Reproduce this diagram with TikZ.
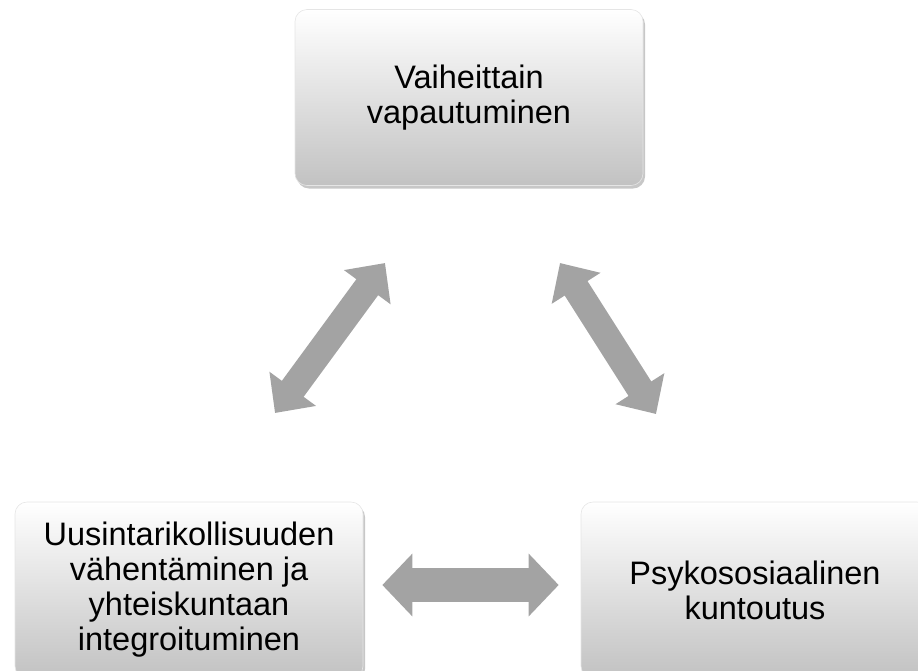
\documentclass[tikz,border=0pt]{standalone}
\usepackage{fontspec}
\setmainfont{Liberation Sans}
\usetikzlibrary{arrows.meta,shadows}
\begin{document}
\begin{tikzpicture}[x=1pt,y=-1pt,
    box/.style={rectangle,rounded corners=12pt,minimum width=348pt,minimum height=176pt,
        align=center,font=\fontsize{32.5}{35}\selectfont,
        top color=white,bottom color=black!24,draw=black!10,line width=0.6pt,
        drop shadow={shadow xshift=2pt,shadow yshift=-3pt,opacity=0.22,fill=black}},
    dblarrow/.style={draw=black!36,line width=27pt,
        {Triangle[length=30pt,width=56pt]}-{Triangle[length=30pt,width=56pt]}}]
    \useasboundingbox (0,0) rectangle (918,670);
    \node[box] (top) at (469,97.5) {Vaiheittain\\vapautuminen};
    \node[box] (bl) at (189,590) {Uusintarikollisuuden\\vähentäminen ja\\yhteiskuntaan\\integroituminen};
    \node[box] (br) at (755,590) {Psykososiaalinen\\kuntoutus};
    % diagonal arrow ends
    \coordinate (lb) at (275,413);
    \coordinate (lt) at (385,263);
    \coordinate (rt) at (560,263);
    \coordinate (rb) at (656,414);
    \draw[dblarrow] (lb) -- (lt);
    \draw[dblarrow] (rt) -- (rb);
    \draw[dblarrow,line width=34pt,{Triangle[length=30pt,width=61pt]}-{Triangle[length=30pt,width=61pt]},
        shorten <=19pt,shorten >=22pt] ([yshift=5pt]bl.east) -- ([yshift=5pt]br.west);
\end{tikzpicture}
\end{document}
